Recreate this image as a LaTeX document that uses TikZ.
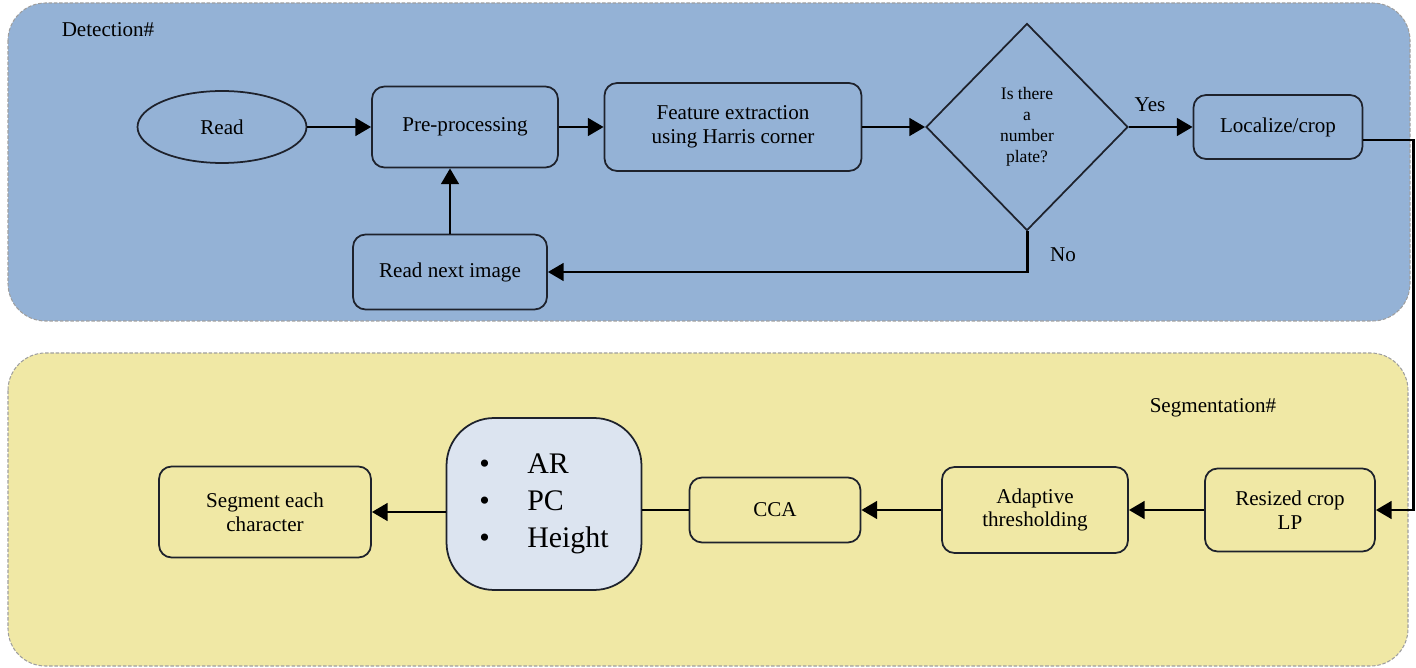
\documentclass[tikz,border=0pt]{standalone}
\usepackage{fontspec}
\setmainfont{Liberation Serif}
\usepackage{xcolor}
\usepackage{tikz}
\usetikzlibrary{shapes.geometric, arrows.meta}
\definecolor{detblue}{RGB}{148,178,214}
\definecolor{segyellow}{RGB}{240,232,165}
\definecolor{bulblue}{RGB}{220,228,240}
\definecolor{inkdark}{RGB}{30,34,44}
\tikzset{
  pane/.style={
    draw = gray!75,
    dash pattern = on 2pt off 1pt,
    line width = 0.6pt,
    rounded corners = 0.75cm
  },
  box/.style={
    draw = inkdark,
    line width = 1pt,
    rounded corners = 0.25cm,
    align = center,
    inner sep = 2pt
  },
  tip/.style={
    line width = 1.7pt,
    -{Triangle[length=9pt, width=10pt]}
  },
  wire/.style={
    line width = 1.7pt
  }
}

\begin{document}
\begin{tikzpicture}[x=0.02cm, y=-0.02cm, font=\fontsize{12}{13.5}\selectfont]
\useasboundingbox (0,0) rectangle (1416,668);
\newcommand\YTop{127}
\newcommand\YLow{510}
\draw[pane, fill=detblue] (8,3) rectangle (1410,321);
\draw[pane, fill=segyellow] (8,353) rectangle (1408,666);
\node (DetTitle) at (108,30) {Detection\#};
\node (SegTitle) at (1213,408) {Segmentation\#};

\node[draw=inkdark, line width=1pt, ellipse, minimum width=3.38cm, minimum height=1.44cm] (Read) at (222,\YTop) {Read};
\node[box, minimum width=3.72cm, minimum height=1.62cm] (Pre) at (465,\YTop) {Pre-processing};
\node[box, minimum width=5.14cm, minimum height=1.76cm] (Feat) at (733,\YTop) {Feature extraction\\using Harris corner};
\node[draw=inkdark, line width=1pt, diamond, inner sep=0pt, align=center, minimum width=4.04cm, minimum height=4.14cm, font=\fontsize{10}{12}\selectfont] (Ask) at (1027,\YTop) {Is there\\a\\number\\plate?};
\node[box, minimum width=3.38cm, minimum height=1.28cm] (Loc) at (1278,\YTop) {Localize/crop};
\node[box, minimum width=3.88cm, minimum height=1.5cm] (Next) at (450,272) {Read next image};
\node (Yes) at (1150,105) {Yes};
\node (No) at (1063,255) {No};

\node[box, minimum width=3.4cm, minimum height=1.66cm] (Res) at (1290,\YLow) {Resized crop\\LP};
\node[box, minimum width=3.72cm, minimum height=1.72cm] (Adt) at (1035,\YLow) {Adaptive\\thresholding};
\node[box, minimum width=3.42cm, minimum height=1.3cm] (Cca) at (775,\YLow) {CCA};
\node[box, fill=bulblue, rounded corners=0.95cm, align=left, minimum width=3.9cm, minimum height=3.44cm, font=\fontsize{17}{21}\selectfont] (Bul) at (544,504) {\makebox[0.96cm][l]{\textbullet}AR\\\makebox[0.96cm][l]{\textbullet}PC\\\makebox[0.96cm][l]{\textbullet}Height};
\node[box, minimum width=4.24cm, minimum height=1.82cm] (Seg) at (265,512) {Segment each\\character};
\coordinate (Bend) at (1413,140);

\path (Read) edge[tip] (Pre)
      (Pre)  edge[tip] (Feat)
      (Feat) edge[tip] (Ask)
      (Ask)  edge[tip] (Loc)
      (Res)  edge[tip] (Adt)
      (Adt)  edge[tip] (Cca);

\draw[tip] (Ask.south) |- (Next.east);
\draw[tip] (Next.north) -- (Next.north |- Pre.south);
\draw[tip] (Loc.east |- Bend) -- (Bend) |- (Res.east);
\draw[wire] (Cca.west) -- (Cca.west -| Bul.east);
\draw[tip] (Seg.east -| Bul.west) -- (Seg.east);
\end{tikzpicture}
\end{document}
